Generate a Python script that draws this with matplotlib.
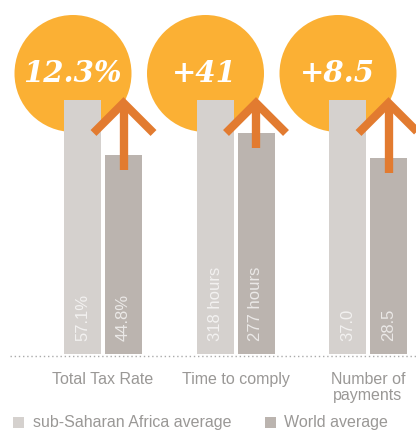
import numpy as np
import matplotlib.pyplot as plt
from matplotlib.patches import Circle, Rectangle

# data
categories = ["Total Tax Rate", "Time to comply", "Number of\npayments"]
ssa_values = [57.1, 318, 37.0]
world_values = [44.8, 277, 28.5]
ssa_labels = ["57.1%", "318 hours", "37.0"]
world_labels = ["44.8%", "277 hours", "28.5"]
badges = ["12.3%", "+41", "+8.5"]
legend_names = ["sub-Saharan Africa average", "World average"]

c_ssa = "#d5d1ce"
c_world = "#bbb4af"
c_circle = "#fbb034"
c_arrow = "#e27b30"
c_text = "#9a9896"

W, H = 416, 430
fig = plt.figure(figsize=(W / 100, H / 100), dpi=100)
ax = fig.add_axes([0, 0, 1, 1])
ax.set_xlim(0, W)
ax.set_ylim(0, H)
ax.axis("off")

base = 76      # baseline (pixels from bottom)
full = 254     # height of a sub-Saharan bar
bw = 37
gx = 103 + 132.5 * np.arange(len(categories))

ssa_h = np.full(len(categories), full, dtype=float)
world_h = full * np.array(world_values) / np.array(ssa_values)

# circles behind bars
for i, x in enumerate(gx):
    ax.add_patch(Circle((x - 30, H - 73.5), 58.5, color=c_circle, zorder=1, lw=0))
    ax.text(x - 31, H - 73, badges[i], color="white", fontsize=21,
            family="DejaVu Serif", weight="bold", style="italic",
            ha="center", va="center", zorder=5)

ax.bar(gx - 20.5, ssa_h, bw, bottom=base, color=c_ssa, zorder=2)
ax.bar(gx + 20.5, world_h, bw, bottom=base, color=c_world, zorder=2)

ax.plot([10, W], [base - 1.5, base - 1.5], ls=(0, (1, 2)), color="#aaaaaa",
        lw=1, zorder=1)

# arrows
for i, x in enumerate(gx):
    xa = x + 20.5
    tip = H - 103
    bot = base + world_h[i] - 15
    ax.plot([xa, xa], [bot, tip], color=c_arrow, lw=6, solid_capstyle="butt",
            zorder=4)
    ax.plot([xa - 30, xa, xa + 30], [tip - 30, tip, tip - 30], color=c_arrow,
            lw=6, solid_capstyle="butt", solid_joinstyle="miter", zorder=4)

# value labels
for i, x in enumerate(gx):
    ax.text(x - 20.5, base + 13, ssa_labels[i], rotation=90, color="white",
            alpha=0.7, fontsize=12, family="Liberation Sans",
            ha="center", va="bottom", zorder=3)
    ax.text(x + 20.5, base + 13, world_labels[i], rotation=90, color="white",
            alpha=0.7, fontsize=12, family="Liberation Sans",
            ha="center", va="bottom", zorder=3)

# category labels
for i, x in enumerate(gx):
    ax.text(x, H - 372, categories[i], color=c_text, fontsize=11.5,
            family="Liberation Sans", ha="center", va="top", linespacing=1.05)

# legend
ax.add_patch(Rectangle((13, H - 428), 11, 11, color=c_ssa, lw=0))
ax.text(33, H - 423, legend_names[0], color=c_text, fontsize=11.5,
        family="Liberation Sans", ha="left", va="center")
ax.add_patch(Rectangle((265, H - 428), 11, 11, color=c_world, lw=0))
ax.text(284, H - 423, legend_names[1], color=c_text, fontsize=11.5,
        family="Liberation Sans", ha="left", va="center")

fig.savefig("out.png", dpi=100)
